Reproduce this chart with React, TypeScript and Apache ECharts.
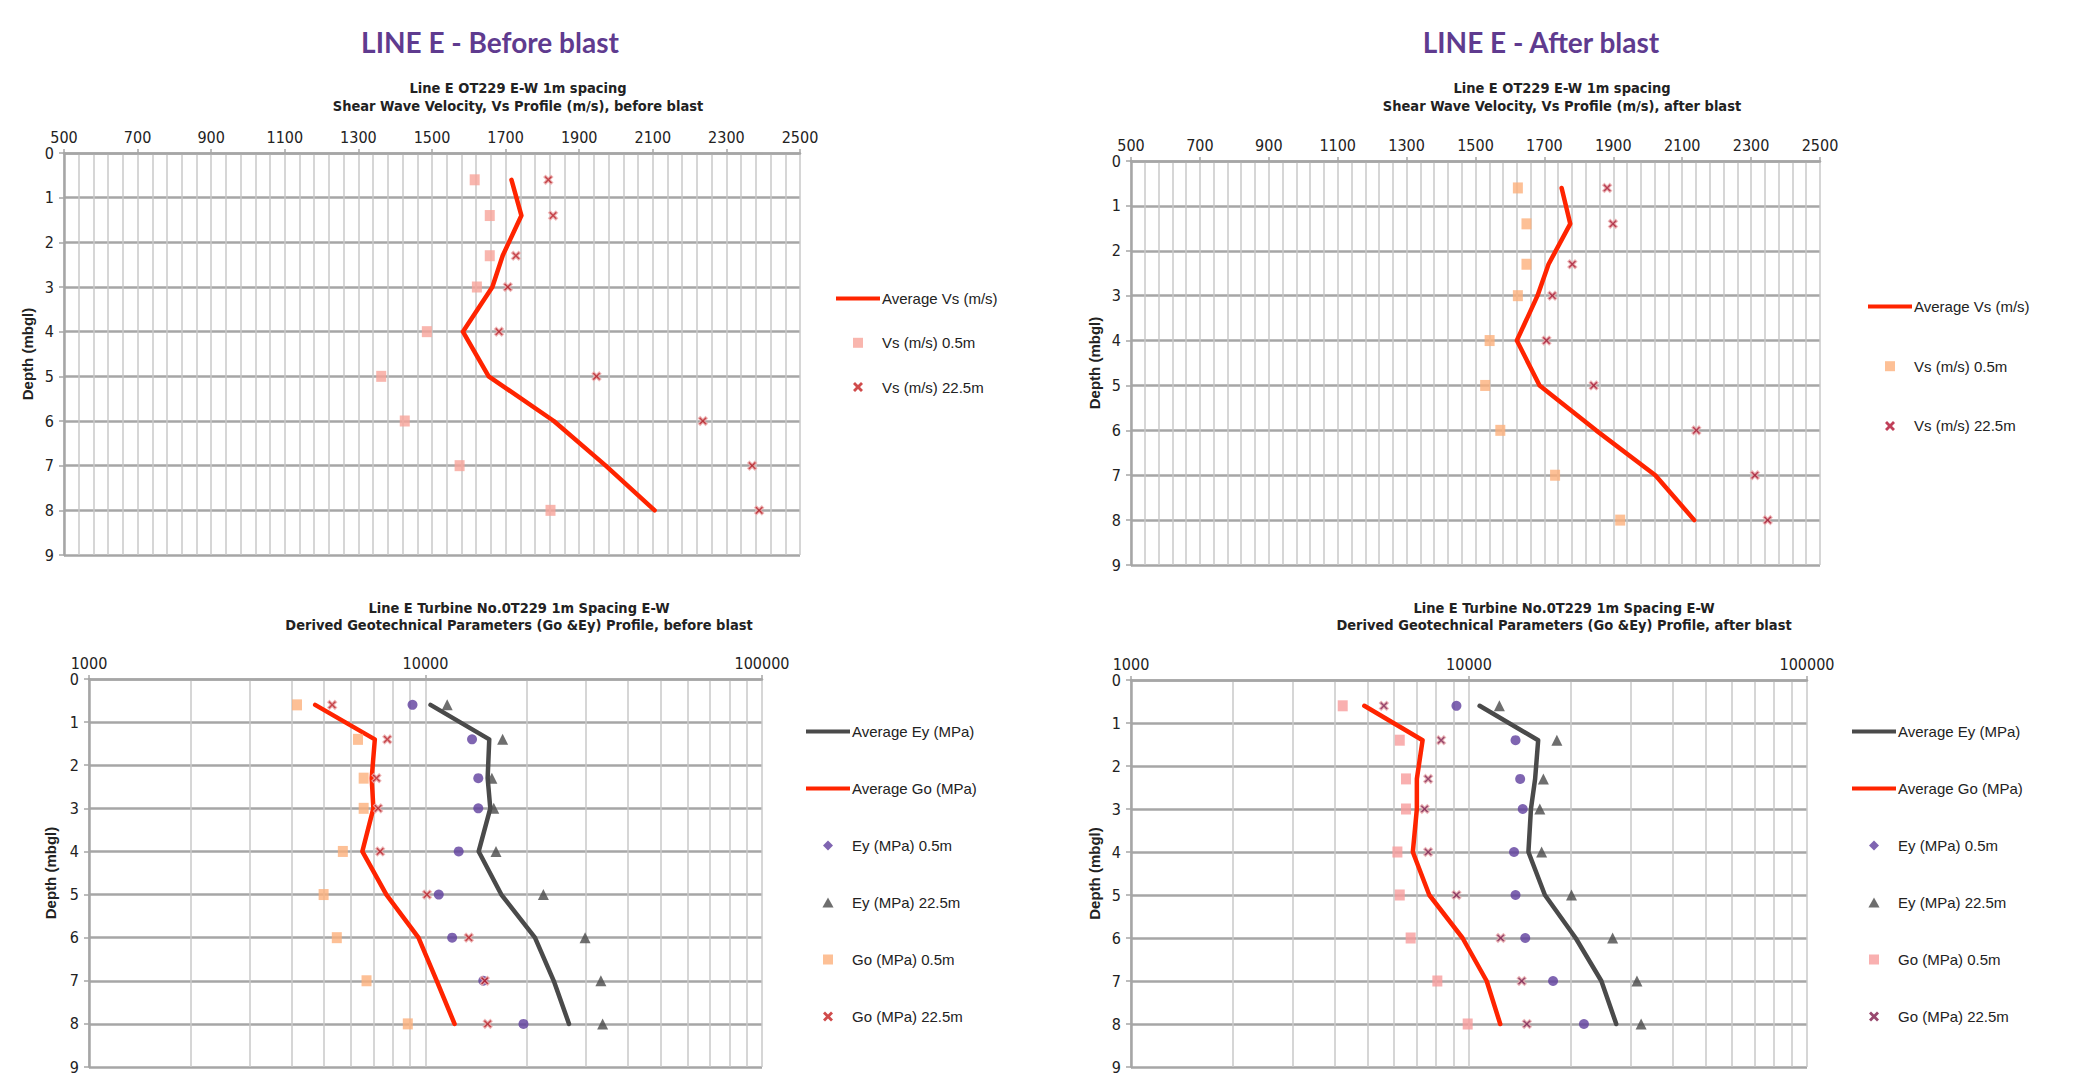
import React, { useEffect, useRef } from "react";
import * as echarts from "echarts";

// ---------- data ----------
const depths = [0.6, 1.4, 2.3, 3, 4, 5, 6, 7, 8];

// Shear wave velocity (m/s), before blast
const vsBeforeAvg = [1716, 1743, 1692, 1664, 1584, 1654, 1831, 1972, 2105];
const vsBefore05 = [1616, 1657, 1657, 1622, 1486, 1362, 1426, 1575, 1822];
const vsBefore225 = [1816, 1829, 1728, 1706, 1682, 1947, 2236, 2370, 2389];

// Shear wave velocity (m/s), after blast
const vsAfterAvg = [1750, 1775, 1712, 1680, 1620, 1686, 1850, 2022, 2135];
const vsAfter05 = [1623, 1648, 1648, 1623, 1541, 1528, 1572, 1731, 1920];
const vsAfter225 = [1882, 1899, 1781, 1723, 1706, 1843, 2141, 2311, 2348];

// Go / Ey (MPa), before blast
const eyBeforeAvg = [10350, 15470, 15300, 15580, 14390, 16800, 21150, 24050, 26700];
const goBeforeAvg = [4700, 7070, 6920, 7000, 6490, 7650, 9530, 10800, 12200];
const eyBefore05 = [9150, 13750, 14350, 14350, 12550, 10950, 12000, 14850, 19550];
const eyBefore225 = [11600, 16950, 15750, 15950, 16200, 22400, 29800, 33200, 33600];
const goBefore05 = [4150, 6300, 6550, 6550, 5680, 4980, 5450, 6680, 8860];
const goBefore225 = [5280, 7700, 7150, 7230, 7330, 10100, 13450, 15000, 15300];

// Go / Ey (MPa), after blast
const eyAfterAvg = [10750, 16020, 15690, 15250, 14990, 16770, 20680, 24640, 27270];
const goAfterAvg = [4900, 7290, 7010, 7010, 6820, 7630, 9570, 11280, 12370];
const eyAfter05 = [9180, 13730, 14170, 14420, 13590, 13730, 14670, 17730, 21880];
const eyAfter225 = [12300, 18200, 16600, 16200, 16400, 20100, 26600, 31400, 32300];
const goAfter05 = [4230, 6240, 6510, 6510, 6140, 6240, 6720, 8060, 9910];
const goAfter225 = [5600, 8270, 7570, 7390, 7570, 9180, 12410, 14320, 14830];

const vsNames = ["Average Vs (m/s)", "Vs (m/s) 0.5m", "Vs (m/s) 22.5m"];
const modNames = [
  "Average Ey (MPa)",
  "Average Go (MPa)",
  "Ey (MPa) 0.5m",
  "Ey (MPa) 22.5m",
  "Go (MPa) 0.5m",
  "Go (MPa) 22.5m",
];

// ---------- styling ----------
const NARROW = "'Liberation Sans Narrow', 'DejaVu Sans Condensed', 'Arial Narrow', sans-serif";
const SANS = "'Liberation Sans', Arial, sans-serif";
const XPATH = "path://M2,0L5,3L8,0L10,2L7,5L10,8L8,10L5,7L2,10L0,8L3,5L0,2Z";
const LINEICON = "path://M0,0H44V4H0Z";
const SQICON = "path://M0,0H10V10H0Z";
const TRIICON = "path://M5,0L10,9H0Z";
const DIAICON = "path://M5,0L10,5L5,10L0,5Z";

const RED = "#ff2400";
const GREY = "#4a4a4a";
const PURPLE = "#5f3f9d";
const PINK = "#f7a49a";
const ORANGE = "#fcb07c";
const PINK2 = "#f89c9c";

const pts = (xs: number[]) => xs.map((x, i) => [x, depths[i]]);

const grids = [
  { left: 64, top: 153, width: 736, height: 402 },
  { left: 1131, top: 161, width: 689, height: 404 },
  { left: 89, top: 679, width: 673, height: 393 },
  { left: 1131, top: 680, width: 676, height: 393 },
];

const axisGrey = "#a6a6a6";
const minorGrey = "#c8c8c8";

function xAxisFor(i: number) {
  const common: any = {
    gridIndex: i,
    position: "top",
    axisLine: { show: true, onZero: false, lineStyle: { color: axisGrey, width: 2.5 } },
    axisTick: { show: true, length: 4, lineStyle: { color: axisGrey, width: 1.5 } },
    axisLabel: {
      fontFamily: NARROW,
      fontSize: 16,
      color: "#222",
      margin: 8,
      formatter: (v: number) => String(v),
    },
    splitLine: { show: true, lineStyle: { color: minorGrey, width: 1.5 } },
    minorSplitLine: { show: true, lineStyle: { color: minorGrey, width: 1.5 } },
  };
  if (i < 2) {
    return {
      ...common,
      type: "value",
      min: 500,
      max: 2500,
      interval: 200,
      minorTick: { show: false, splitNumber: 5 },
    };
  }
  return {
    ...common,
    type: "log",
    logBase: 10,
    min: 1000,
    max: 100000,
    minorTick: { show: false, splitNumber: 9 },
  };
}

function yAxisFor(i: number, gap: number) {
  return {
    gridIndex: i,
    type: "value",
    inverse: true,
    min: 0,
    max: 9,
    interval: 1,
    name: "Depth (mbgl)",
    nameLocation: "middle",
    nameGap: gap,
    nameRotate: 90,
    nameTextStyle: { fontFamily: SANS, fontWeight: "bold", fontSize: 15, color: "#222" },
    axisLine: { show: true, onZero: false, lineStyle: { color: axisGrey, width: 2.5 } },
    axisTick: { show: true, length: 5, lineStyle: { color: axisGrey, width: 1.5 } },
    axisLabel: { fontFamily: NARROW, fontSize: 16, color: "#222", margin: 10 },
    splitLine: { show: true, lineStyle: { color: axisGrey, width: 2.5 } },
  };
}

function lineSeries(name: string, i: number, xs: number[], color: string) {
  return {
    name,
    type: "line",
    xAxisIndex: i,
    yAxisIndex: i,
    data: pts(xs),
    symbol: "none",
    color,
    lineStyle: { color, width: 4.5, cap: "round", join: "round" },
    z: 3,
  };
}

function scatterSeries(name: string, i: number, xs: number[], symbol: string, size: any, itemStyle: any) {
  return {
    name,
    type: "scatter",
    xAxisIndex: i,
    yAxisIndex: i,
    data: pts(xs),
    symbol,
    symbolSize: size,
    itemStyle,
    z: 4,
  };
}

const xStyle = (c: string) => ({ color: c, borderColor: "#eeb4b4", borderWidth: 1.2 });

function legendFor(left: number, top: number, gap: number, items: any[]) {
  return {
    orient: "vertical",
    left,
    top,
    itemWidth: 44,
    itemHeight: 10,
    itemGap: gap,
    padding: 0,
    selectedMode: false,
    textStyle: { fontFamily: SANS, fontSize: 15, color: "#222", lineHeight: 14, padding: [0, 0, 0, -3] },
    data: items,
  };
}

function titleText(x: number, y: number, text: string, opts: any) {
  return {
    type: "text",
    x,
    y,
    silent: true,
    style: { text, align: "center", verticalAlign: "middle", fill: "#222", ...opts },
  };
}

export default function App() {
  const ref = useRef<HTMLDivElement>(null);

  useEffect(() => {
    if (!ref.current) return;
    const chart = echarts.init(ref.current, undefined, { renderer: "svg" });

    const sub = { fontFamily: NARROW, fontWeight: "bold", fontSize: 14.5 };
    const big = { fontFamily: "Lato, 'Noto Sans', sans-serif", fontWeight: "bold", fontSize: 28, fill: "#5f3b8f" };

    const sqItem = (name: string, color: string) => ({ name, icon: SQICON, itemStyle: { color } });
    const xItem = (name: string, color: string) => ({ name, icon: XPATH, itemStyle: { color, borderWidth: 0 } });
    const lnItem = (name: string, color: string) => ({ name, icon: LINEICON, itemStyle: { color } });

    const option: any = {
      animation: false,
      backgroundColor: "#ffffff",
      grid: grids.map((g) => ({ ...g, containLabel: false })),
      xAxis: [0, 1, 2, 3].map((i) => xAxisFor(i)),
      yAxis: [yAxisFor(0, 29), yAxisFor(1, 29), yAxisFor(2, 31), yAxisFor(3, 29)],
      legend: [
        legendFor(836, 291, 29.3, [
          lnItem(vsNames[0], RED),
          sqItem(vsNames[1], PINK),
          xItem(vsNames[2], "#c41e1e"),
        ]),
        legendFor(1868, 299, 44.7, [
          lnItem(vsNames[0], RED),
          sqItem(vsNames[1], ORANGE),
          xItem(vsNames[2], "#b01030"),
        ]),
        legendFor(806, 724, 42, [
          lnItem(modNames[0], GREY),
          lnItem(modNames[1], RED),
          { name: modNames[2], icon: DIAICON, itemStyle: { color: PURPLE } },
          { name: modNames[3], icon: TRIICON, itemStyle: { color: GREY } },
          sqItem(modNames[4], ORANGE),
          xItem(modNames[5], "#c41e1e"),
        ]),
        legendFor(1852, 724, 42, [
          lnItem(modNames[0], GREY),
          lnItem(modNames[1], RED),
          { name: modNames[2], icon: DIAICON, itemStyle: { color: PURPLE } },
          { name: modNames[3], icon: TRIICON, itemStyle: { color: GREY } },
          sqItem(modNames[4], PINK2),
          xItem(modNames[5], "#7e1a4a"),
        ]),
      ],
      graphic: [
        titleText(490, 42, "LINE E - Before blast", big),
        titleText(1541, 42, "LINE E - After blast", big),
        titleText(518, 88, "Line E OT229 E-W 1m spacing", sub),
        titleText(518, 106, "Shear Wave Velocity, Vs Profile (m/s), before blast", sub),
        titleText(1562, 88, "Line E OT229 E-W 1m spacing", sub),
        titleText(1562, 106, "Shear Wave Velocity, Vs Profile (m/s), after blast", sub),
        titleText(519, 608, "Line E Turbine No.0T229 1m Spacing E-W", sub),
        titleText(519, 625, "Derived Geotechnical Parameters (Go &Ey) Profile, before blast", sub),
        titleText(1564, 608, "Line E Turbine No.0T229 1m Spacing E-W", sub),
        titleText(1564, 625, "Derived Geotechnical Parameters (Go &Ey) Profile, after blast", sub),
      ],
      series: [
        // Top-left
        lineSeries(vsNames[0], 0, vsBeforeAvg, RED),
        scatterSeries(vsNames[1], 0, vsBefore05, "rect", [10, 11], { color: PINK }),
        scatterSeries(vsNames[2], 0, vsBefore225, XPATH, 9, xStyle("#b8161e")),
        // Top-right
        lineSeries(vsNames[0], 1, vsAfterAvg, RED),
        scatterSeries(vsNames[1], 1, vsAfter05, "rect", [10, 11], { color: ORANGE }),
        scatterSeries(vsNames[2], 1, vsAfter225, XPATH, 9, xStyle("#a8102a")),
        // Bottom-left
        lineSeries(modNames[0], 2, eyBeforeAvg, GREY),
        lineSeries(modNames[1], 2, goBeforeAvg, RED),
        scatterSeries(modNames[2], 2, eyBefore05, "circle", 10, { color: PURPLE }),
        scatterSeries(modNames[3], 2, eyBefore225, "triangle", 11, { color: GREY }),
        scatterSeries(modNames[4], 2, goBefore05, "rect", [10, 11], { color: ORANGE }),
        scatterSeries(modNames[5], 2, goBefore225, XPATH, 9, xStyle("#b8161e")),
        // Bottom-right
        lineSeries(modNames[0], 3, eyAfterAvg, GREY),
        lineSeries(modNames[1], 3, goAfterAvg, RED),
        scatterSeries(modNames[2], 3, eyAfter05, "circle", 10, { color: PURPLE }),
        scatterSeries(modNames[3], 3, eyAfter225, "triangle", 11, { color: GREY }),
        scatterSeries(modNames[4], 3, goAfter05, "rect", [10, 11], { color: PINK2 }),
        scatterSeries(modNames[5], 3, goAfter225, XPATH, 9, xStyle("#7e1a4a")),
      ],
    };

    chart.setOption(option);
    return () => chart.dispose();
  }, []);

  return (
    <div
      ref={ref}
      style={{ position: "fixed", left: 0, top: 0, width: 2088, height: 1075, background: "#fff" }}
    />
  );
}
